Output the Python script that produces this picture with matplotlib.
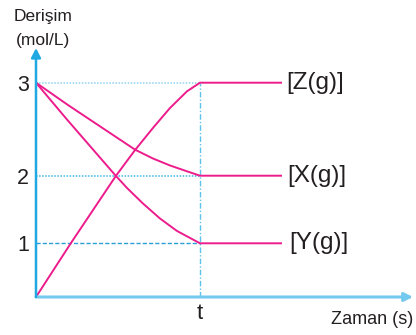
import numpy as np
import matplotlib
matplotlib.use("Agg")
import matplotlib.pyplot as plt

plt.rcParams['font.family'] = ['Liberation Sans', 'DejaVu Sans']

# concentration curves (time in units of t, concentration in mol/L)
time_z = [0, 0.212, 0.488, 0.604, 0.713, 0.817, 0.921, 1.0, 1.5]
conc_z = [0, 1.0, 2.0, 2.276, 2.513, 2.728, 2.908, 3.0, 3.0]

time_x = [0, 0.195, 0.396, 0.604, 0.713, 0.817, 0.921, 1.0, 1.5]
conc_x = [3.0, 2.760, 2.524, 2.280, 2.185, 2.110, 2.047, 2.0, 2.0]

time_y = [0, 0.189, 0.486, 0.555, 0.652, 0.756, 0.860, 0.957, 1.0, 1.5]
conc_y = [3.0, 2.604, 2.0, 1.818, 1.589, 1.367, 1.182, 1.056, 1.0, 1.0]

levels = [1, 2, 3]
level_labels = ["1", "2", "3"]
curve_names = ["[Z(g)]", "[X(g)]", "[Y(g)]"]
t_mark = 1.0

# the concentration axis is drawn schematically, not to scale
knots_val = np.array([0, 1, 2, 3, 4])
knots_pos = np.array([0, 53.7, 121.3, 214.3, 307.3])


def fwd(v):
    return np.interp(v, knots_val, knots_pos)


def inv(p):
    return np.interp(p, knots_pos, knots_val)


W, H = 416, 335
fig = plt.figure(figsize=(W / 100, H / 100), dpi=100)
x0, y0, x1, y1 = 36, 297, 413, 48
ax = fig.add_axes([x0 / W, (H - y0) / H, (x1 - x0) / W, (y0 - y1) / H])
ax.set_yscale('function', functions=(fwd, inv))
ax.set_xlim(0, (x1 - x0) / 164)
ax.set_ylim(0, inv(fwd(3) + (82.7 - 48)))
ax.patch.set_alpha(0)
for s in ax.spines.values():
    s.set_visible(False)

pink = '#ec1c8c'
guide = '#3fb6e6'

# guide lines
ax.plot([0, t_mark], [3, 3], color='#8fd3f2', lw=1.1, ls=(0, (1, 1)))
ax.plot([0, t_mark], [2, 2], color=guide, lw=1.1, ls=(0, (1, 1)))
ax.plot([0, t_mark], [1, 1], color='#2a9fd8', lw=1.0, ls=(0, (3, 1.5)))
ax.plot([t_mark, t_mark], [0, 3], color='#5cc2ec', lw=1.0, ls=(0, (4, 1.5, 1, 1.5)))

# curves
for tx, cy in [(time_z, conc_z), (time_x, conc_x), (time_y, conc_y)]:
    ax.plot(tx, cy, color=pink, lw=1.4, solid_capstyle='butt',
            solid_joinstyle='round', clip_on=False)

# axes with arrow heads
ax.annotate('', xy=(1.0, 0), xytext=(0, 0), xycoords='axes fraction',
            arrowprops=dict(arrowstyle='-|>,head_length=0.5,head_width=0.25',
                            color='#74c9ee', lw=2.2, shrinkA=0, shrinkB=0))
ax.annotate('', xy=(0, 1.0), xytext=(0, 0), xycoords='axes fraction',
            arrowprops=dict(arrowstyle='-|>,head_length=0.55,head_width=0.28',
                            color='#1fa8e2', lw=1.8, shrinkA=0, shrinkB=0))

ax.set_yticks(levels)
ax.set_yticklabels(level_labels, fontsize=15.5, color='#231f20')
ax.set_xticks([t_mark])
ax.set_xticklabels(['t'], fontsize=16, color='#231f20')
ax.tick_params(axis='y', length=0, pad=5)
ax.tick_params(axis='x', length=0, pad=4)

# curve names at the right end
for name, tx, cy, dx in zip(curve_names, [time_z, time_x, time_y],
                            [conc_z, conc_x, conc_y], [0.025, 0.03, 0.045]):
    ax.text(tx[-1] + dx, cy[-1], name, fontsize=17.5, color='#231f20',
            va='center', ha='left')

fig.text(43 / W, 1 - 16 / H, 'Derişim', fontsize=12.5, color='#231f20',
         ha='center', va='center')
fig.text(43 / W, 1 - 40 / H, '(mol/L)', fontsize=12.5, color='#231f20',
         ha='center', va='center')
fig.text(413 / W, 1 - 319 / H, 'Zaman (s)', fontsize=13, color='#231f20',
         ha='right', va='center')

fig.savefig('out.png', dpi=100)
